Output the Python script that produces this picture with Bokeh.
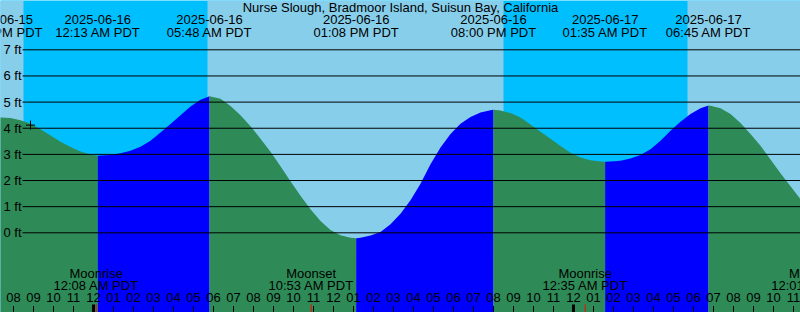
import numpy as np
import pandas as pd
from bokeh.plotting import figure
from bokeh.models import Range1d, ColumnDataSource
from bokeh.core.properties import value
from bokeh.embed import file_html
from bokeh.resources import INLINE

# ---------------- data ----------------
title_text = "Nurse Slough, Bradmoor Island, Suisun Bay, California"
view_start = pd.Timestamp("2025-06-15 19:21")
view_end = pd.Timestamp("2025-06-17 11:21")

# tide height (ft) read every 30 minutes starting at sample_start
sample_start = "2025-06-15 19:21"
sample_step = "30min"
heights_ft = [
    4.41, 4.39, 4.31, 4.17, 3.96, 3.72, 3.48, 3.28, 3.11, 3.00,
    2.96, 2.98, 3.04, 3.14, 3.29, 3.52, 3.84, 4.16, 4.50, 4.83,
    5.09, 5.21, 5.13, 4.85, 4.50, 4.08, 3.60, 3.10, 2.55, 1.97,
    1.42, 0.90, 0.45, 0.11, -0.09, -0.19, -0.19, -0.10, 0.03, 0.33,
    0.73, 1.25, 1.88, 2.62, 3.26, 3.78, 4.17, 4.43, 4.60, 4.69,
    4.68, 4.58, 4.41, 4.14, 3.87, 3.60, 3.32, 3.06, 2.88, 2.78,
    2.73, 2.73, 2.76, 2.84, 2.98, 3.20, 3.52, 3.90, 4.25, 4.54,
    4.76, 4.86, 4.76, 4.54, 4.20, 3.78, 3.33, 2.80, 2.28, 1.78,
    1.29,
]

extreme_times = ["2025-06-15 19:19", "2025-06-16 00:13", "2025-06-16 05:48",
                 "2025-06-16 13:08", "2025-06-16 20:00", "2025-06-17 01:35",
                 "2025-06-17 06:45"]
extreme_heights = [4.42, 2.95, 5.22, -0.21, 4.71, 2.72, 4.87]
extreme_kinds = ["high", "low", "high", "low", "high", "low", "high"]

sunrise_times = ["2025-06-15 05:42", "2025-06-16 05:42", "2025-06-17 05:42"]
sunset_times = ["2025-06-15 20:30", "2025-06-16 20:30", "2025-06-17 20:30"]

moon_times = ["2025-06-16 00:08", "2025-06-16 10:53", "2025-06-17 00:35", "2025-06-17 12:01"]
moon_events = ["Moonrise", "Moonset", "Moonrise", "Moonset"]

now_time = "2025-06-15 20:51"
now_height = 4.12

grid_levels = [0, 1, 2, 3, 4, 5, 6, 7]

# ---------------- styling / layout ----------------
W, H = 800, 312
PX_PER_FT = 26.14
Y_TOP = 232.3 / PX_PER_FT
Y_BOT = Y_TOP - H / PX_PER_FT
MIN_PER_PX = (view_end - view_start).total_seconds() / 60.0 / W
FONT = value("Liberation Sans")
FS = "13px"
DAY = "#87CEEB"
NIGHT = "#00BFFF"
FALL = "#2E8B57"
RISE = "#0000FF"


def row(px):
    return Y_TOP - px / PX_PER_FT


def xpx(px):
    return view_start + pd.Timedelta(minutes=px * MIN_PER_PX)


p = figure(width=W, height=H, x_range=Range1d(view_start, view_end),
           y_range=Range1d(Y_BOT, Y_TOP), output_backend="svg",
           toolbar_location=None, min_border=0, x_axis_type=None, y_axis_type=None)
p.outline_line_color = None
p.background_fill_color = NIGHT
p.border_fill_color = NIGHT
p.grid.visible = False

# day bands
sr = pd.to_datetime(sunrise_times)
ss = pd.to_datetime(sunset_times)
p.quad(left=sr, right=ss, bottom=Y_BOT, top=Y_TOP, fill_color=DAY, line_color=None)

# tide curve
st = pd.date_range(sample_start, periods=len(heights_ft), freq=sample_step)
et = pd.to_datetime(extreme_times)
all_t = np.concatenate([st.values, et.values])
all_h = np.concatenate([np.array(heights_ft), np.array(extreme_heights)])
order = np.argsort(all_t, kind="stable")
all_t = all_t[order]
all_h = all_h[order]

bounds = list(et.values) + [np.datetime64(view_end + pd.Timedelta(hours=1))]
kinds_next = extreme_kinds[1:] + ["low"]
for i in range(len(bounds) - 1):
    a, b = bounds[i], bounds[i + 1]
    m = (all_t >= a) & (all_t <= b)
    if m.sum() < 2:
        continue
    color = RISE if kinds_next[i] == "high" else FALL
    p.varea(x=all_t[m], y1=Y_BOT, y2=all_h[m], fill_color=color)

# grid lines and labels
gx0 = xpx(22)
gx1 = view_end
p.segment(x0=[gx0] * len(grid_levels), x1=[gx1] * len(grid_levels),
          y0=grid_levels, y1=grid_levels, line_color="black", line_width=1)
p.text(x=[xpx(21)] * len(grid_levels), y=grid_levels,
       text=[f"{g} ft" for g in grid_levels], text_font=FONT, text_font_size=FS,
       text_align="right", text_baseline="middle", text_color="black")

# title
p.text(x=[xpx(400)], y=[row(6.7)], text=[title_text], text_font=FONT,
       text_font_size=FS, text_align="center", text_baseline="middle", text_color="black")

# extreme labels
p.text(x=et, y=[row(19.3)] * len(et), text=[t.strftime("%Y-%m-%d") for t in et],
       text_font=FONT, text_font_size=FS, text_align="center", text_baseline="middle",
       text_color="black")
p.text(x=et, y=[row(31.7)] * len(et), text=[t.strftime("%I:%M %p PDT") for t in et],
       text_font=FONT, text_font_size=FS, text_align="center", text_baseline="middle",
       text_color="black")

# moon labels
mt = pd.to_datetime(moon_times)
p.text(x=mt, y=[row(273.3)] * len(mt), text=moon_events, text_font=FONT,
       text_font_size=FS, text_align="center", text_baseline="middle", text_color="black")
p.text(x=mt, y=[row(285.0)] * len(mt), text=[t.strftime("%I:%M %p PDT") for t in mt],
       text_font=FONT, text_font_size=FS, text_align="center", text_baseline="middle",
       text_color="black")

# hour ticks
hours = pd.date_range(view_start.ceil("h"), view_end.floor("h"), freq="h")
p.text(x=hours, y=[row(297.3)] * len(hours), text=[t.strftime("%I") for t in hours],
       text_font=FONT, text_font_size=FS, text_align="center", text_baseline="middle",
       text_color="black")
p.segment(x0=hours, x1=hours, y0=row(305.5), y1=Y_BOT, line_color="black", line_width=1)
mids = [t for t in hours if t.hour == 0]
p.segment(x0=mids, x1=mids, y0=row(304), y1=Y_BOT, line_color="black", line_width=3)
p.segment(x0=mt, x1=mt, y0=row(304), y1=Y_BOT, line_color="red", line_width=1)

# now marker
p.scatter(x=[pd.Timestamp(now_time)], y=[now_height], marker="cross", size=9,
          line_color="black", line_width=1)

open("out.html", "w").write(file_html(p, INLINE))
